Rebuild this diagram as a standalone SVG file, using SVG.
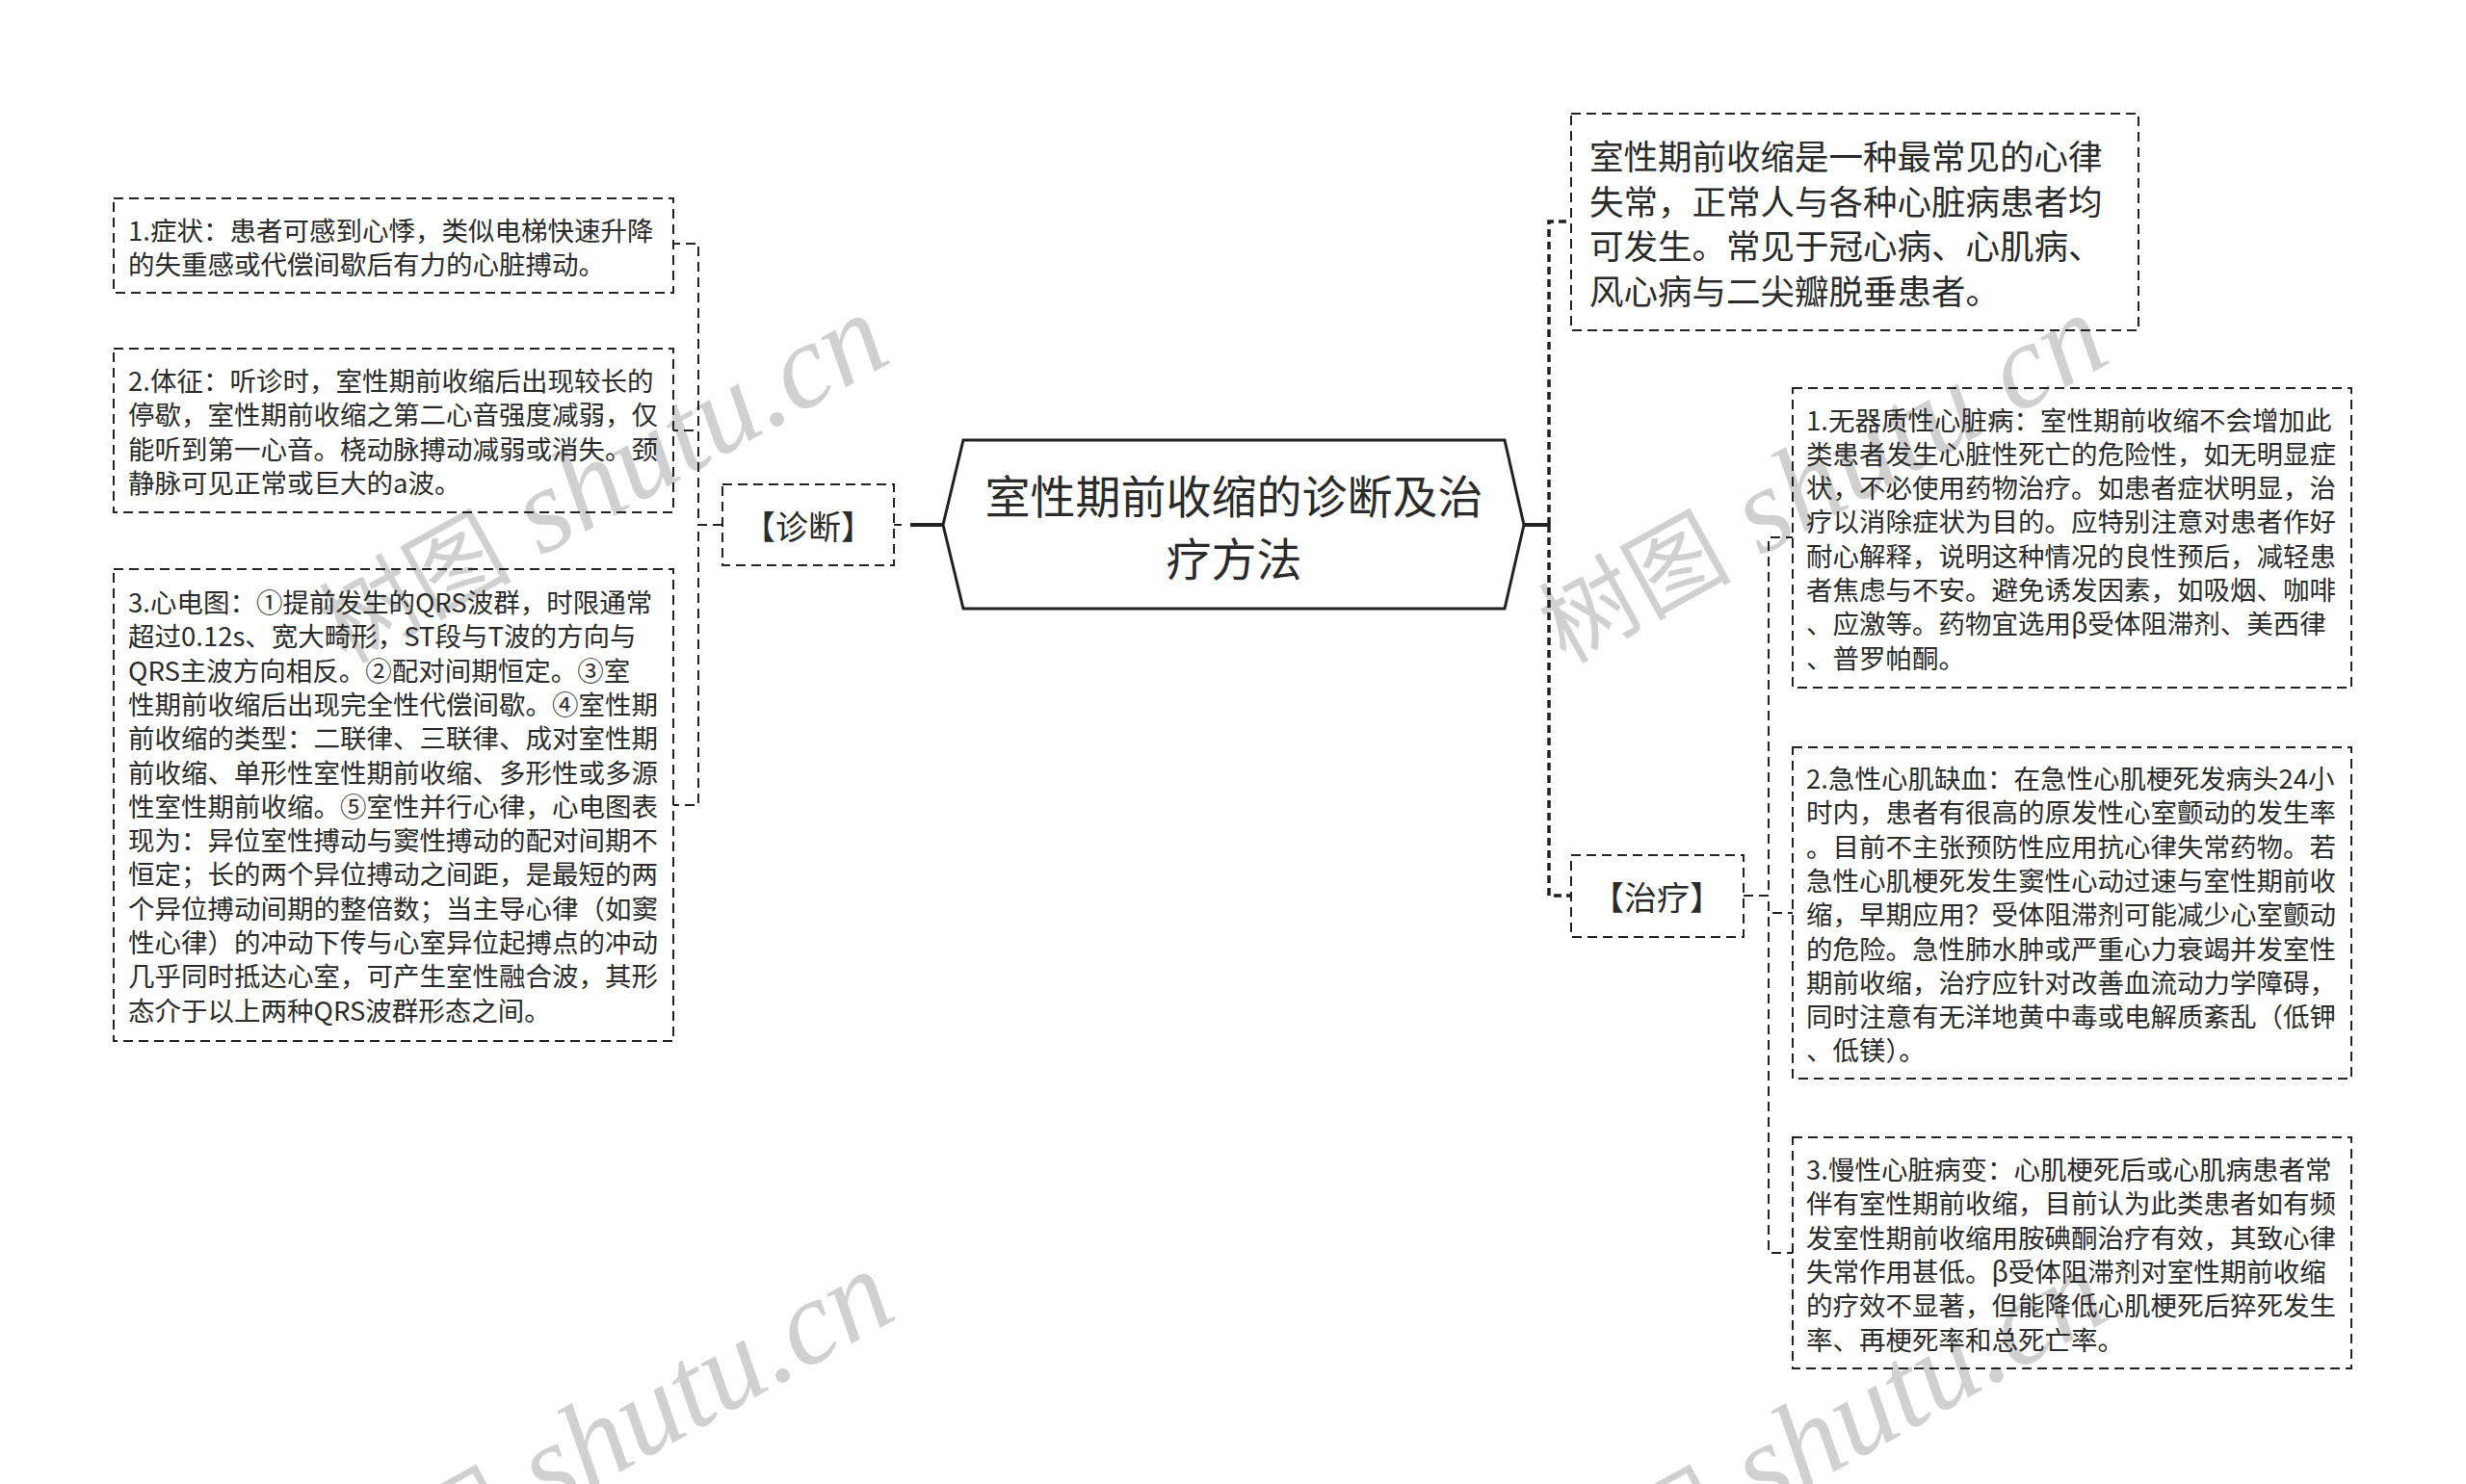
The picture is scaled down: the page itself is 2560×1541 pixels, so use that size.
<svg xmlns="http://www.w3.org/2000/svg" width="2560" height="1541" viewBox="0 0 2560 1541">
<style>
.bg{fill:#ffffff}
.wm{fill:#d0d0d0}
.wmc{font-family:"Noto Sans CJK SC",sans-serif;font-size:100px}
.wml{font-family:"Liberation Serif",serif;font-style:italic;font-size:125px}
.box{fill:none;stroke:#222;stroke-width:2;stroke-dasharray:10 6}
.hex{fill:#fff;stroke:#222;stroke-width:3}
.t{font-family:"Noto Sans CJK SC","Noto Sans",sans-serif;fill:#2b2b2b;font-size:27.5px;dominant-baseline:central}
.ti{font-family:"Noto Sans CJK SC","Noto Sans",sans-serif;fill:#2b2b2b;font-size:35.5px;dominant-baseline:central}
.tc{font-family:"Noto Sans CJK SC","Noto Sans",sans-serif;fill:#2b2b2b;font-size:47px;dominant-baseline:central;text-anchor:middle}
.tl{font-family:"Noto Sans CJK SC","Noto Sans",sans-serif;fill:#2b2b2b;font-size:34px;dominant-baseline:central;text-anchor:middle}
.c{fill:none;stroke:#222;stroke-width:2;stroke-dasharray:10 6}
.cb{fill:none;stroke:#222;stroke-width:3.5;stroke-dasharray:8 5}
.cs{fill:none;stroke:#222;stroke-width:4}
</style>
<rect class="bg" x="0" y="0" width="2560" height="1541"/>
<g id="watermarks">
<text class="wm" transform="translate(359 690) rotate(-29)"><tspan class="wmc">树图</tspan><tspan class="wml"> shutu.cn</tspan></text>
<text class="wm" transform="translate(1625 690) rotate(-29)"><tspan class="wmc">树图</tspan><tspan class="wml"> shutu.cn</tspan></text>
<text class="wm" transform="translate(365 1683) rotate(-29)"><tspan class="wmc">树图</tspan><tspan class="wml"> shutu.cn</tspan></text>
<text class="wm" transform="translate(1625 1683) rotate(-29)"><tspan class="wmc">树图</tspan><tspan class="wml"> shutu.cn</tspan></text>
</g>
<g id="connectors">
<path class="cs" d="M979 545 H945"/>
<path class="c" d="M936 545 H928"/>
<path class="c" d="M750 545 H725 V253 H699"/>
<path class="c" d="M750 545 H725 V447 H699"/>
<path class="c" d="M750 545 H725 V836 H699"/>
<path class="cs" d="M1582 545 H1608"/>
<path class="cb" d="M1608 545 V230 H1631"/>
<path class="cb" d="M1608 545 V930 H1631"/>
<path class="c" d="M1810 930 H1836 V558 H1861"/>
<path class="c" d="M1810 930 H1836 V948 H1861"/>
<path class="c" d="M1810 930 H1836 V1301 H1861"/>
</g>
<g id="center">
<polygon class="hex" points="1000,457 1562,457 1582,545 1562,632 1000,632 979,545"/>
<text class="tc" x="1281" y="512">室性期前收缩的诊断及治</text>
<text class="tc" x="1281" y="577">疗方法</text>
</g>
<g id="diagnosis">
<rect class="box" x="750" y="503" width="178" height="84"/>
<text class="tl" x="839" y="545">【诊断】</text>
</g>
<g id="d1">
<rect class="box" x="118" y="206" width="581" height="98"/>
<text class="t" x="133" y="237.5">1.症状：患者可感到心悸，类似电梯快速升降</text>
<text class="t" x="133" y="272.8">的失重感或代偿间歇后有力的心脏搏动。</text>
</g>
<g id="d2">
<rect class="box" x="118" y="362" width="581" height="170"/>
<text class="t" x="133" y="394">2.体征：听诊时，室性期前收缩后出现较长的</text>
<text class="t" x="133" y="429.3">停歇，室性期前收缩之第二心音强度减弱，仅</text>
<text class="t" x="133" y="464.6">能听到第一心音。桡动脉搏动减弱或消失。颈</text>
<text class="t" x="133" y="499.9">静脉可见正常或巨大的a波。</text>
</g>
<g id="d3">
<rect class="box" x="118" y="591" width="581" height="490"/>
<text class="t" x="133" y="624">3.心电图：①提前发生的QRS波群，时限通常</text>
<text class="t" x="133" y="659.3">超过0.12s、宽大畸形，ST段与T波的方向与</text>
<text class="t" x="133" y="694.6">QRS主波方向相反。②配对间期恒定。③室</text>
<text class="t" x="133" y="729.9">性期前收缩后出现完全性代偿间歇。④室性期</text>
<text class="t" x="133" y="765.2">前收缩的类型：二联律、三联律、成对室性期</text>
<text class="t" x="133" y="800.5">前收缩、单形性室性期前收缩、多形性或多源</text>
<text class="t" x="133" y="835.8">性室性期前收缩。⑤室性并行心律，心电图表</text>
<text class="t" x="133" y="871.1">现为：异位室性搏动与窦性搏动的配对间期不</text>
<text class="t" x="133" y="906.4">恒定；长的两个异位搏动之间距，是最短的两</text>
<text class="t" x="133" y="941.7">个异位搏动间期的整倍数；当主导心律（如窦</text>
<text class="t" x="133" y="977">性心律）的冲动下传与心室异位起搏点的冲动</text>
<text class="t" x="133" y="1012.3">几乎同时抵达心室，可产生室性融合波，其形</text>
<text class="t" x="133" y="1047.6">态介于以上两种QRS波群形态之间。</text>
</g>
<g id="intro">
<rect class="box" x="1631" y="118" width="589" height="225"/>
<text class="ti" x="1650" y="160.5">室性期前收缩是一种最常见的心律</text>
<text class="ti" x="1650" y="207.2">失常，正常人与各种心脏病患者均</text>
<text class="ti" x="1650" y="253.9">可发生。常见于冠心病、心肌病、</text>
<text class="ti" x="1650" y="300.6">风心病与二尖瓣脱垂患者。</text>
</g>
<g id="treatment">
<rect class="box" x="1631" y="888" width="179" height="85"/>
<text class="tl" x="1720" y="930">【治疗】</text>
</g>
<g id="t1">
<rect class="box" x="1861" y="403" width="580" height="311"/>
<text class="t" x="1875" y="434.5">1.无器质性心脏病：室性期前收缩不会增加此</text>
<text class="t" x="1875" y="469.8">类患者发生心脏性死亡的危险性，如无明显症</text>
<text class="t" x="1875" y="505.1">状，不必使用药物治疗。如患者症状明显，治</text>
<text class="t" x="1875" y="540.4">疗以消除症状为目的。应特别注意对患者作好</text>
<text class="t" x="1875" y="575.7">耐心解释，说明这种情况的良性预后，减轻患</text>
<text class="t" x="1875" y="611">者焦虑与不安。避免诱发因素，如吸烟、咖啡</text>
<text class="t" x="1875" y="646.3">、应激等。药物宜选用β受体阻滞剂、美西律</text>
<text class="t" x="1875" y="681.6">、普罗帕酮。</text>
</g>
<g id="t2">
<rect class="box" x="1861" y="776" width="580" height="344"/>
<text class="t" x="1875" y="807">2.急性心肌缺血：在急性心肌梗死发病头24小</text>
<text class="t" x="1875" y="842.3">时内，患者有很高的原发性心室颤动的发生率</text>
<text class="t" x="1875" y="877.6">。目前不主张预防性应用抗心律失常药物。若</text>
<text class="t" x="1875" y="912.9">急性心肌梗死发生窦性心动过速与室性期前收</text>
<text class="t" x="1875" y="948.2">缩，早期应用？受体阻滞剂可能减少心室颤动</text>
<text class="t" x="1875" y="983.5">的危险。急性肺水肿或严重心力衰竭并发室性</text>
<text class="t" x="1875" y="1018.8">期前收缩，治疗应针对改善血流动力学障碍，</text>
<text class="t" x="1875" y="1054.1">同时注意有无洋地黄中毒或电解质紊乱（低钾</text>
<text class="t" x="1875" y="1089.4">、低镁）。</text>
</g>
<g id="t3">
<rect class="box" x="1861" y="1181" width="580" height="240"/>
<text class="t" x="1875" y="1213">3.慢性心脏病变：心肌梗死后或心肌病患者常</text>
<text class="t" x="1875" y="1248.3">伴有室性期前收缩，目前认为此类患者如有频</text>
<text class="t" x="1875" y="1283.6">发室性期前收缩用胺碘酮治疗有效，其致心律</text>
<text class="t" x="1875" y="1318.9">失常作用甚低。β受体阻滞剂对室性期前收缩</text>
<text class="t" x="1875" y="1354.2">的疗效不显著，但能降低心肌梗死后猝死发生</text>
<text class="t" x="1875" y="1389.5">率、再梗死率和总死亡率。</text>
</g>
</svg>
